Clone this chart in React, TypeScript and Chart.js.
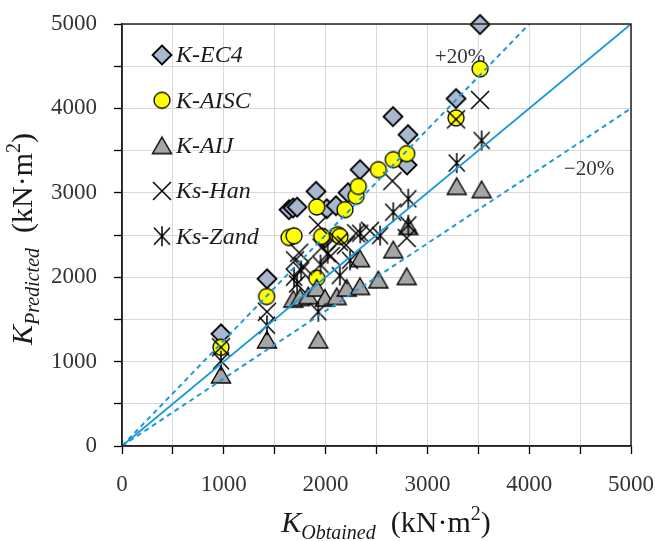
import React, { useEffect, useRef } from 'react';
import { Chart, registerables } from 'chart.js';

Chart.register(...registerables);

// ---- Data (kN·m²) ----
const SERIES_NAMES = ['K-EC4', 'K-AISC', 'K-AIJ', 'Ks-Han', 'Ks-Zand'];

const EC4_X = [972, 1424, 1640, 1680, 1720, 1906, 1990, 2011, 2102, 2220, 2338, 2662, 2800, 2809, 3281, 3517];
const EC4_Y = [1329, 1981, 2800, 2820, 2830, 3017, 2460, 2811, 2847, 3001, 3274, 3903, 3330, 3689, 4116, 4994];

const AISC_X = [972, 1421, 1640, 1690, 1913, 1913, 1962, 2119, 2141, 2190, 2300, 2321, 2518, 2665, 2797, 3281, 3517];
const AISC_Y = [1170, 1771, 2470, 2490, 2832, 1989, 2483, 2503, 2483, 2800, 2960, 3076, 3274, 3393, 3464, 3887, 4469];

const AIJ_X = [972, 1424, 1683, 1750, 1830, 1913, 1928, 1994, 2109, 2207, 2338, 2338, 2518, 2665, 2797, 2812, 3288, 3533];
const AIJ_Y = [842, 1257, 1740, 1760, 1780, 1871, 1257, 1752, 1771, 1871, 1890, 2220, 1969, 2325, 2008, 2601, 3076, 3037];

const HAN_X = [972, 1424, 1700, 1740, 1780, 1925, 1960, 2050, 2130, 2200, 2300, 2436, 2656, 2797, 3281, 3517];
const HAN_Y = [1170, 1590, 2200, 2290, 2130, 2620, 2350, 2250, 2420, 2380, 2520, 2550, 3140, 2464, 3870, 4100];

const ZAND_X = [972, 1424, 1690, 1720, 1760, 1928, 1950, 2020, 2140, 2240, 2340, 2535, 2665, 2812, 2812, 3288, 3533];
const ZAND_Y = [1010, 1430, 2000, 1920, 2080, 1590, 2150, 2280, 2020, 2200, 2520, 2494, 2770, 2930, 2620, 3353, 3620];

// reference lines: y = x, +20% (y = 1.25x), -20% (y = 0.8x)
const EQUAL_X = [0, 5000];
const EQUAL_Y = [0, 5000];
const UPPER_X = [0, 4000];
const UPPER_Y = [0, 5000];
const LOWER_X = [0, 5000];
const LOWER_Y = [0, 4000];

const AXIS_MIN = 0;
const AXIS_MAX = 5000;
const GRID_STEP = 500;
const LABEL_STEP = 1000;

const PLUS_LABEL = '+20%';
const PLUS_POS = [3320, 4603];
const MINUS_LABEL = '\u221220%';
const MINUS_POS = [4587, 3274];

const SERIF = '"Liberation Serif", "Times New Roman", serif';
const LINE_BLUE = '#1B9AD8';

type Kind = 'diamond' | 'circle' | 'triangle' | 'x' | 'star';

function makeMarker(kind: Kind): HTMLCanvasElement {
  const s = 26;
  const c = document.createElement('canvas');
  c.width = s;
  c.height = s;
  const ctx = c.getContext('2d')!;
  const m = s / 2;
  ctx.strokeStyle = '#000';
  ctx.lineJoin = 'miter';
  if (kind === 'diamond') {
    const r = 9.5;
    ctx.beginPath();
    ctx.moveTo(m, m - r);
    ctx.lineTo(m + r, m);
    ctx.lineTo(m, m + r);
    ctx.lineTo(m - r, m);
    ctx.closePath();
    ctx.fillStyle = '#A7B8CF';
    ctx.fill();
    ctx.lineWidth = 1.8;
    ctx.stroke();
  } else if (kind === 'circle') {
    ctx.beginPath();
    ctx.arc(m, m, 8, 0, Math.PI * 2);
    ctx.fillStyle = '#FFFF00';
    ctx.fill();
    ctx.lineWidth = 1.3;
    ctx.stroke();
  } else if (kind === 'triangle') {
    ctx.beginPath();
    ctx.moveTo(m, m - 8.5);
    ctx.lineTo(m + 9.5, m + 8);
    ctx.lineTo(m - 9.5, m + 8);
    ctx.closePath();
    ctx.fillStyle = '#A6A6A6';
    ctx.fill();
    ctx.lineWidth = 1.4;
    ctx.stroke();
  } else if (kind === 'x') {
    const d = 9;
    ctx.lineWidth = 1.5;
    ctx.beginPath();
    ctx.moveTo(m - d, m - d);
    ctx.lineTo(m + d, m + d);
    ctx.moveTo(m + d, m - d);
    ctx.lineTo(m - d, m + d);
    ctx.stroke();
  } else {
    const dx = 8;
    const dy = 8.5;
    ctx.lineWidth = 1.5;
    ctx.beginPath();
    ctx.moveTo(m - dx, m - dy);
    ctx.lineTo(m + dx, m + dy);
    ctx.moveTo(m + dx, m - dy);
    ctx.lineTo(m - dx, m + dy);
    ctx.moveTo(m, m - 10);
    ctx.lineTo(m, m + 10);
    ctx.stroke();
  }
  return c;
}

function pts(xs: number[], ys: number[]) {
  return xs.map((x, i) => ({ x, y: ys[i] }));
}

function drawTitle(
  ctx: CanvasRenderingContext2D,
  cx: number,
  baseY: number,
  sub: string
) {
  const big = 30;
  const small = 20;
  const parts = [
    { t: 'K', font: `italic ${big}px ${SERIF}`, dy: 0 },
    { t: sub, font: `italic ${small}px ${SERIF}`, dy: 7 },
    { t: '  (kN\u00B7m', font: `${big}px ${SERIF}`, dy: 0 },
    { t: '2', font: `${small}px ${SERIF}`, dy: -12 },
    { t: ')', font: `${big}px ${SERIF}`, dy: 0 },
  ];
  let total = 0;
  const widths: number[] = [];
  for (const p of parts) {
    ctx.font = p.font;
    const w = ctx.measureText(p.t).width;
    widths.push(w);
    total += w;
  }
  let x = cx - total / 2;
  ctx.textAlign = 'left';
  ctx.textBaseline = 'alphabetic';
  ctx.fillStyle = '#1a1a1a';
  parts.forEach((p, i) => {
    ctx.font = p.font;
    ctx.fillText(p.t, x, baseY + p.dy);
    x += widths[i];
  });
}

export default function App() {
  const ref = useRef<HTMLCanvasElement | null>(null);

  useEffect(() => {
    document.body.style.margin = '0';
    const canvas = ref.current;
    if (!canvas) return;

    const markers: Record<Kind, HTMLCanvasElement> = {
      diamond: makeMarker('diamond'),
      circle: makeMarker('circle'),
      triangle: makeMarker('triangle'),
      x: makeMarker('x'),
      star: makeMarker('star'),
    };
    const legendKinds: Kind[] = ['diamond', 'circle', 'triangle', 'x', 'star'];

    const decor = {
      id: 'decor',
      beforeDatasetsDraw(chart: any) {
        const ctx = chart.ctx as CanvasRenderingContext2D;
        const xs = chart.scales.x;
        const ys = chart.scales.y;
        ctx.save();
        ctx.font = `21px ${SERIF}`;
        ctx.fillStyle = '#333';
        ctx.textAlign = 'center';
        ctx.textBaseline = 'middle';
        ctx.fillText(PLUS_LABEL, xs.getPixelForValue(PLUS_POS[0]), ys.getPixelForValue(PLUS_POS[1]));
        ctx.fillText(MINUS_LABEL, xs.getPixelForValue(MINUS_POS[0]), ys.getPixelForValue(MINUS_POS[1]));
        ctx.restore();
      },
      afterDraw(chart: any) {
        const ctx = chart.ctx as CanvasRenderingContext2D;
        const a = chart.chartArea;
        ctx.save();
        // plot box
        ctx.strokeStyle = '#222';
        ctx.lineWidth = 1.5;
        ctx.strokeRect(a.left, a.top, a.right - a.left, a.bottom - a.top);

        // legend
        ctx.font = `italic 24px ${SERIF}`;
        ctx.fillStyle = '#1a1a1a';
        ctx.textAlign = 'left';
        ctx.textBaseline = 'middle';
        SERIES_NAMES.forEach((name, i) => {
          const y = a.top + 31 + i * 45.3;
          const mk = markers[legendKinds[i]];
          ctx.drawImage(mk, a.left + 40 - mk.width / 2, y - mk.height / 2);
          ctx.fillText(name, a.left + 54, y + 1);
        });

        // axis titles
        drawTitle(ctx, 386, 532, 'Obtained');
        ctx.save();
        ctx.translate(32, 239);
        ctx.rotate(-Math.PI / 2);
        drawTitle(ctx, 0, 0, 'Predicted');
        ctx.restore();
        ctx.restore();
      },
    };

    const tickCb = (v: any) => (Number(v) % LABEL_STEP === 0 ? String(v) : '');

    const scaleCommon = (axis: 'x' | 'y') => ({
      type: 'linear' as const,
      min: AXIS_MIN,
      max: AXIS_MAX,
      grid: {
        color: '#D9D9D9',
        lineWidth: 1,
        tickLength: 8,
        tickColor: '#000',
        tickWidth: 1.3,
      },
      border: { color: '#222', width: 1.5 },
      ticks: {
        stepSize: GRID_STEP,
        autoSkip: false,
        maxRotation: 0,
        padding: axis === 'x' ? 17 : 17,
        color: '#333',
        font: { family: SERIF, size: 23 },
        callback: tickCb,
      },
      afterFit: (scale: any) => {
        scale.paddingLeft = 0;
        scale.paddingRight = 0;
        scale.paddingTop = 0;
        scale.paddingBottom = 0;
        if (axis === 'y') scale.width = 122;
        else scale.height = 95;
      },
    });

    const scatterCommon = { pointRadius: 10, clip: false as any };

    const chart = new Chart(canvas, {
      type: 'scatter',
      data: {
        datasets: [
          {
            label: 'y=x',
            data: pts(EQUAL_X, EQUAL_Y),
            showLine: true,
            borderColor: LINE_BLUE,
            borderWidth: 1.8,
            pointRadius: 0,
            order: 0,
          },
          {
            label: '+20%',
            data: pts(UPPER_X, UPPER_Y),
            showLine: true,
            borderColor: LINE_BLUE,
            borderWidth: 2,
            borderDash: [5, 4],
            pointRadius: 0,
            order: 0,
          },
          {
            label: '-20%',
            data: pts(LOWER_X, LOWER_Y),
            showLine: true,
            borderColor: LINE_BLUE,
            borderWidth: 2,
            borderDash: [5, 4],
            pointRadius: 0,
            order: 0,
          },
          {
            label: SERIES_NAMES[0],
            data: pts(EC4_X, EC4_Y),
            pointStyle: markers.diamond as any,
            ...scatterCommon,
            order: 5,
          },
          {
            label: SERIES_NAMES[1],
            data: pts(AISC_X, AISC_Y),
            pointStyle: markers.circle as any,
            ...scatterCommon,
            order: 4,
          },
          {
            label: SERIES_NAMES[2],
            data: pts(AIJ_X, AIJ_Y),
            pointStyle: markers.triangle as any,
            ...scatterCommon,
            order: 3,
          },
          {
            label: SERIES_NAMES[3],
            data: pts(HAN_X, HAN_Y),
            pointStyle: markers.x as any,
            ...scatterCommon,
            order: 2,
          },
          {
            label: SERIES_NAMES[4],
            data: pts(ZAND_X, ZAND_Y),
            pointStyle: markers.star as any,
            ...scatterCommon,
            order: 1,
          },
        ],
      },
      options: {
        responsive: false,
        animation: false,
        devicePixelRatio: 1,
        layout: { padding: { left: 0, right: 24, top: 24, bottom: 0 } },
        plugins: {
          legend: { display: false },
          tooltip: { enabled: false },
        },
        scales: {
          x: scaleCommon('x') as any,
          y: scaleCommon('y') as any,
        },
      },
      plugins: [decor],
    });

    return () => chart.destroy();
  }, []);

  return (
    <div style={{ width: 655, height: 541, background: '#fff' }}>
      <canvas ref={ref} width={655} height={541} style={{ display: 'block' }} />
    </div>
  );
}
